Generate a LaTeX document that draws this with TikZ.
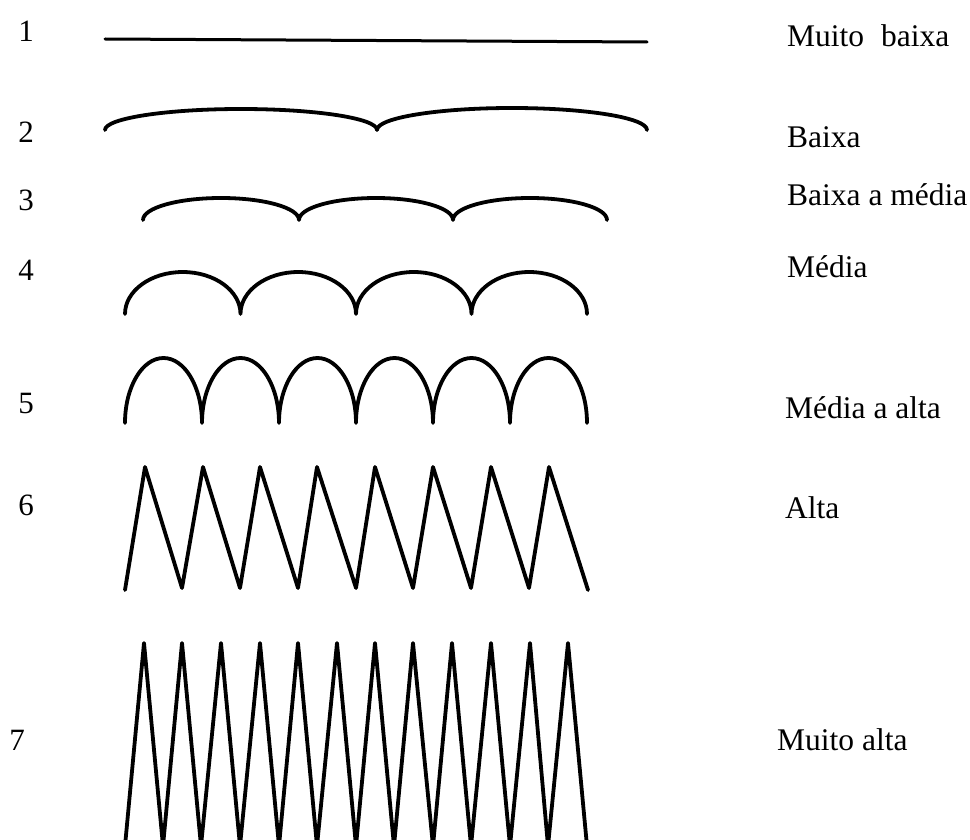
\documentclass[tikz,border=0pt]{standalone}
\usepackage{fontspec}
\setmainfont{Liberation Serif}
\begin{document}
\begin{tikzpicture}[x=1pt,y=-1pt,
  curve/.style={line width=3.8pt, line join=round, line cap=round},
  thinline/.style={line width=3pt, line cap=round},
  lab/.style={inner sep=0pt, anchor=base west, font=\fontsize{31.5}{36}\selectfont},
  num/.style={inner sep=0pt, anchor=base, font=\fontsize{31}{36}\selectfont}]
\useasboundingbox (0,0) rectangle (970,840);
\fill[white] (0,0) rectangle (970,840);

% left numbers
\node[num] (n1) at (26,42) {1};
\node[num] (n2) at (26,143) {2};
\node[num] (n3) at (26,211) {3};
\node[num] (n4) at (26,280) {4};
\node[num] (n5) at (26,413) {5};
\node[num] (n6) at (26,515) {6};
\node[num] (n7) at (17,750) {7};

% right labels
\node[lab] (t1) at (787,47) {Muito\hspace{17pt}baixa};
\node[lab] (t2) at (787,148) {Baixa};
\node[lab] (t3) at (787,205) {Baixa a média};
\node[lab] (t4) at (787,277) {Média};
\node[lab] (t5) at (785,418) {Média a alta};
\node[lab] (t6) at (785,518) {Alta};
\node[lab] (t7) at (777,750) {Muito alta};

% 1: straight line
\draw[thinline] (105,39) -- (647,42);

% 2: two flat arcs
\draw[curve] (105,130)
  arc[start angle=180,end angle=360,x radius=136,y radius=21]
  arc[start angle=180,end angle=360,x radius=135,y radius=22];

% 3: three arcs
\draw[curve] (143,220)
  arc[start angle=180,end angle=360,x radius=78,y radius=22]
  arc[start angle=180,end angle=360,x radius=77,y radius=22]
  arc[start angle=180,end angle=360,x radius=77,y radius=22];

% 4: four arcs
\draw[curve] (125,314)
  \foreach \i in {1,...,4}{ arc[start angle=180,end angle=360,x radius=57.75,y radius=42] };

% 5: six arches
\draw[curve] (125,423)
  \foreach \i in {1,...,6}{ arc[start angle=180,end angle=360,x radius=38.5,y radius=65] };

% 6: zigzag
\draw[curve] (125,590) -- (145,467) -- (182,588) -- (203,467) -- (240,588)
  -- (260,467) -- (298,588) -- (317,467) -- (356,588) -- (375,467)
  -- (413,588) -- (433,467) -- (471,588) -- (491,467) -- (529,588)
  -- (549,467) -- (588,590);

% 7: dense zigzag, cut by the bottom edge
\begin{scope}
\clip (0,0) rectangle (970,840);
\draw[curve] (125,846) -- (144,643) -- (163,846) -- (182,643) -- (201,846)
  -- (221,643) -- (240,846) -- (260,643) -- (279,846) -- (298,643)
  -- (317,846) -- (337,643) -- (356,846) -- (375,643) -- (394,846)
  -- (413,643) -- (433,846) -- (452,643) -- (471,846) -- (491,643)
  -- (510,846) -- (530,643) -- (548,846) -- (568,643) -- (587,846);
\end{scope}
\end{tikzpicture}
\end{document}
